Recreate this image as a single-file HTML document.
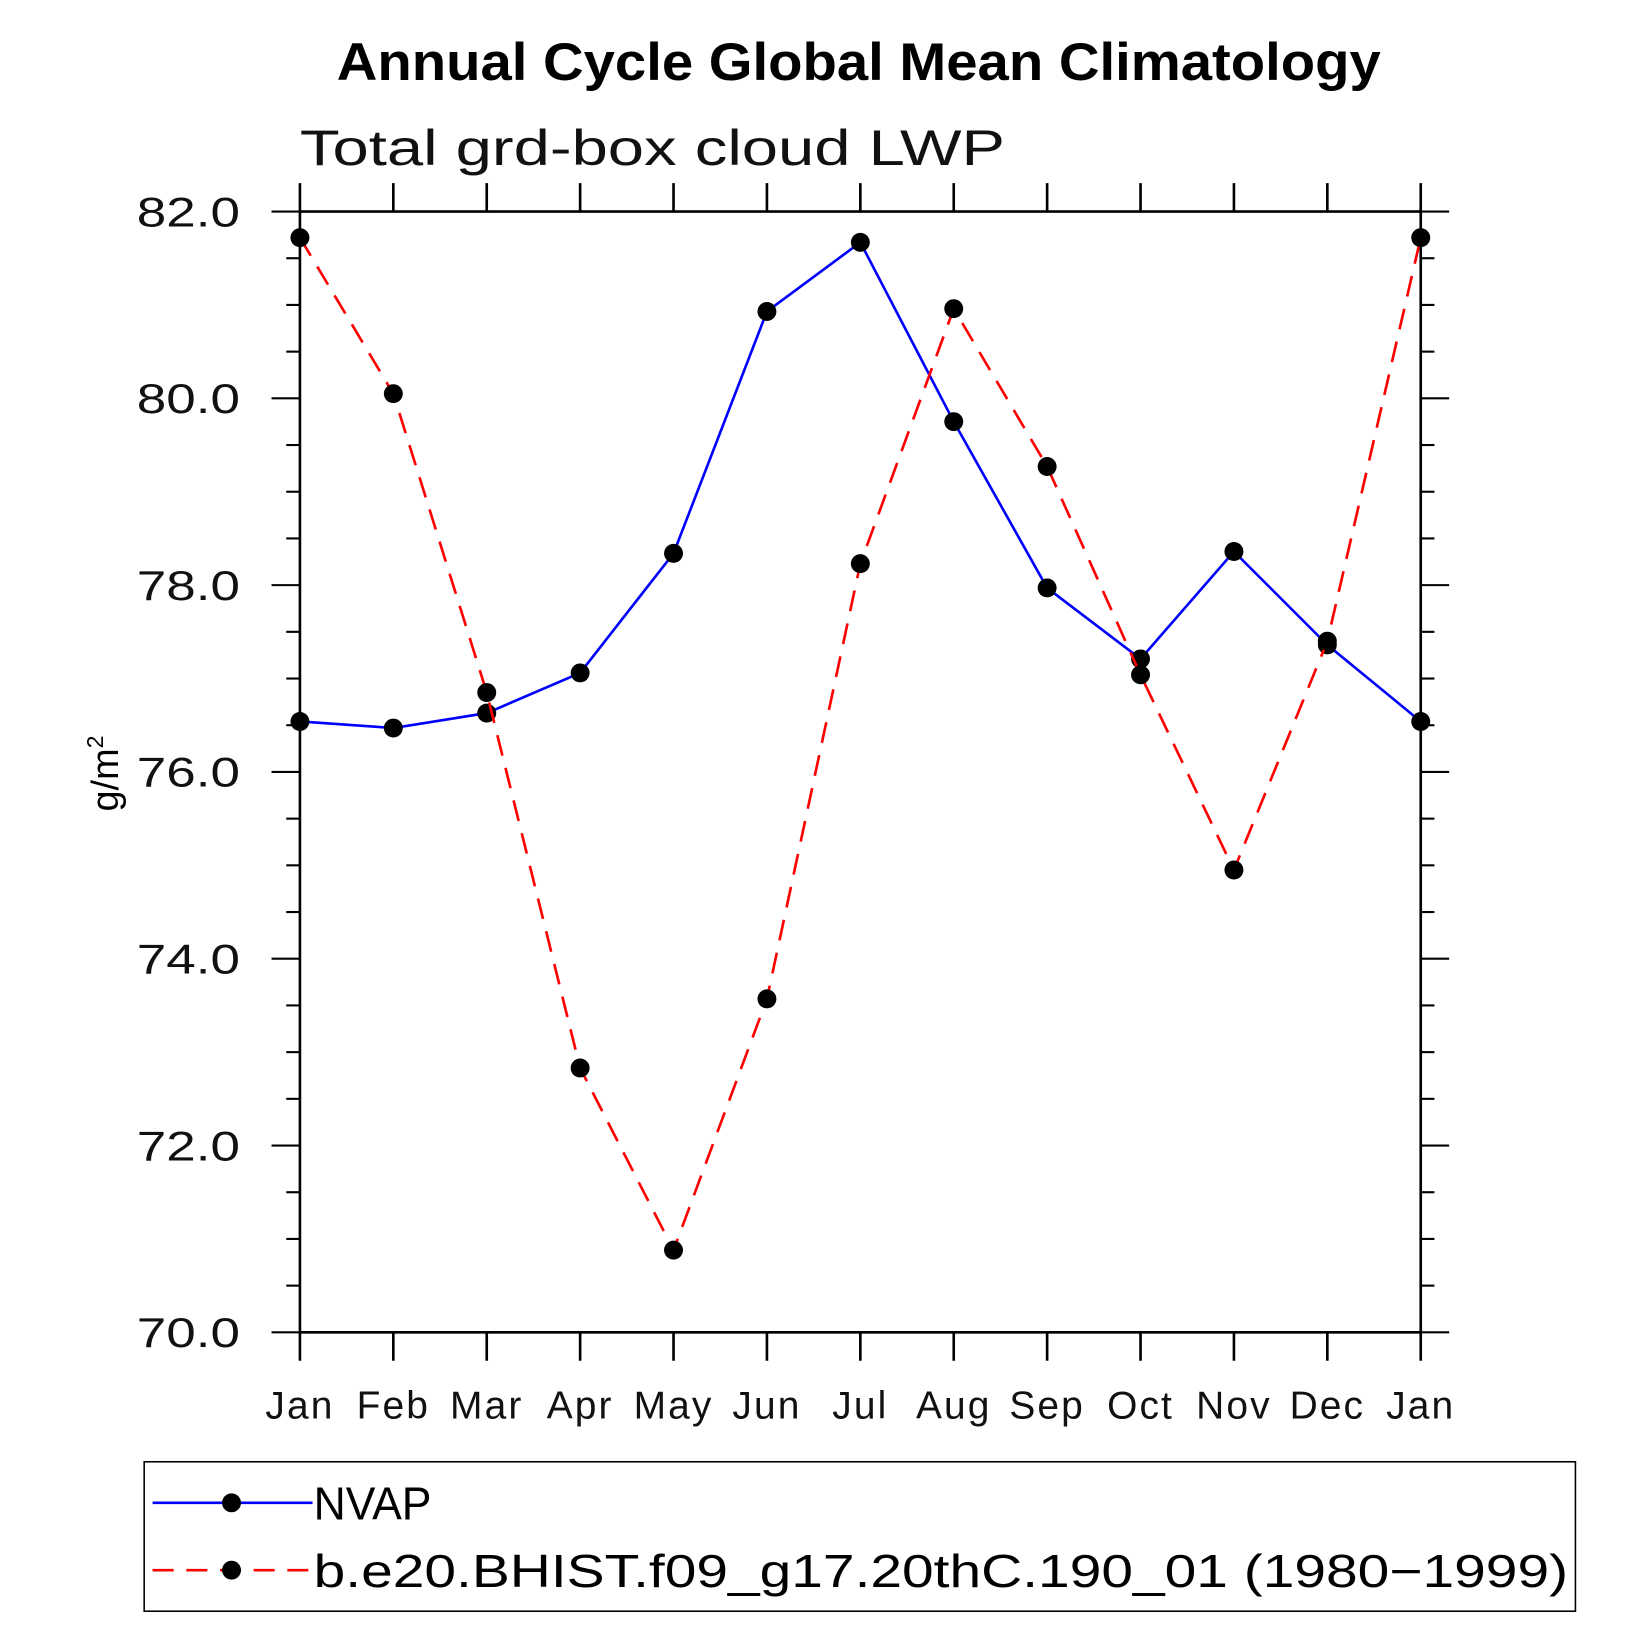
<!DOCTYPE html>
<html><head><meta charset="utf-8"><style>
html,body{margin:0;padding:0;background:#fff}
svg{display:block}
text{font-family:"Liberation Sans",sans-serif}
</style></head><body>
<svg id="chart" width="1647" height="1647" viewBox="0 0 1565 1565" xmlns="http://www.w3.org/2000/svg">
<text x="320" y="76" font-size="50" font-weight="bold" textLength="992" lengthAdjust="spacingAndGlyphs">Annual Cycle Global Mean Climatology</text>
<text x="285" y="157" font-size="48" fill="#111" textLength="670" lengthAdjust="spacingAndGlyphs">Total grd-box cloud LWP</text>
<text transform="translate(112,735) rotate(-90)" font-size="36" text-anchor="middle">g/m<tspan font-size="22" dy="-14">2</tspan></text>
<g id="axes"></g>
<g id="series"></g>
<g>
<rect x="137" y="1389" width="1360" height="142" fill="none" stroke="#000" stroke-width="1.5"/>
<line x1="145" y1="1428" x2="297" y2="1428" stroke="#0000ff" stroke-width="2.5"/>
<circle cx="220" cy="1428" r="9" fill="#000"/>
<text x="298" y="1444" font-size="44" textLength="112" lengthAdjust="spacingAndGlyphs">NVAP</text>
<line x1="145" y1="1492" x2="297" y2="1492" stroke="#ff0000" stroke-width="2.5" stroke-dasharray="20,12"/>
<circle cx="220" cy="1492" r="9" fill="#000"/>
<text x="298" y="1508" font-size="44" textLength="1192" lengthAdjust="spacingAndGlyphs">b.e20.BHIST.f09_g17.20thC.190_01 (1980−1999)</text>
</g>
</svg>
<script>
const months = ["Jan","Feb","Mar","Apr","May","Jun","Jul","Aug","Sep","Oct","Nov","Dec","Jan"];
const nvap = [76.54,76.47,76.63,77.06,78.34,80.93,81.67,79.75,77.97,77.21,78.36,77.36,76.54];
const model = [81.72,80.05,76.85,72.83,70.88,73.57,78.23,80.96,79.27,77.04,74.95,77.40,81.72];
const yTicks = [70,72,74,76,78,80,82];
const yTickLabels = ["70.0","72.0","74.0","76.0","78.0","80.0","82.0"];
const NS="http://www.w3.org/2000/svg";
const X0=285,X1=1350,Y0=1266,Y1=201,YMIN=70,YMAX=82;
function xs(i){return X0+(X1-X0)*i/(months.length-1);}
function ys(v){return Y0-(Y0-Y1)*(v-YMIN)/(YMAX-YMIN);}
function mk(tag,attrs,parent){const e=document.createElementNS(NS,tag);for(const k in attrs)e.setAttribute(k,attrs[k]);parent.appendChild(e);return e;}
const axes=document.getElementById('axes');
const fr=mk('rect',{x:X0,y:Y1,width:X1-X0,height:Y0-Y1,fill:'none',stroke:'#000','stroke-width':2.5},axes);


for(let v=YMIN;v<=YMAX+1e-9;v+=0.5){
  const major=Math.abs(v-Math.round(v/2)*2)<1e-6;
  const len=major?27:13;const y=ys(v);
  const l=mk('line',{x1:X0-len,y1:y,x2:X0,y2:y,stroke:'#000','stroke-width':2},axes);
  
  
  const r=mk('line',{x1:X1,y1:y,x2:X1+len,y2:y,stroke:'#000','stroke-width':2},axes);
  
  
}
yTicks.forEach((v,i)=>{
  const t=mk('text',{x:130,y:ys(v)+14,'font-size':40,fill:'#111',textLength:98,lengthAdjust:'spacingAndGlyphs'},axes);
  t.textContent=yTickLabels[i];
  
  
});
months.forEach((m,i)=>{
  const x=xs(i);
  const b=mk('line',{x1:x,y1:Y0,x2:x,y2:Y0+27,stroke:'#000','stroke-width':2.5},axes);
  
  
  const tp=mk('line',{x1:x,y1:Y1-27,x2:x,y2:Y1,stroke:'#000','stroke-width':2.5},axes);
  
  
  const t=mk('text',{x:x,y:1348,'font-size':37,'text-anchor':'middle',fill:'#111','letter-spacing':2},axes);
  t.textContent=m;
  
  
});
const ser=document.getElementById('series');
function draw(vals,color,dash,name){
  const pts=vals.map((v,i)=>xs(i)+','+ys(v)).join(' ');
  const pl=mk('polyline',{points:pts,fill:'none',stroke:color,'stroke-width':2.5,'stroke-dasharray':dash},ser);
  
  
  vals.forEach((v,i)=>{
    const c=mk('circle',{cx:xs(i),cy:ys(v),r:9,fill:'#000'},ser);
    
    
  });
}
draw(nvap,'#0000ff','none','nvap');
draw(model,'#ff0000','20,12','model');
</script>
</body></html>
